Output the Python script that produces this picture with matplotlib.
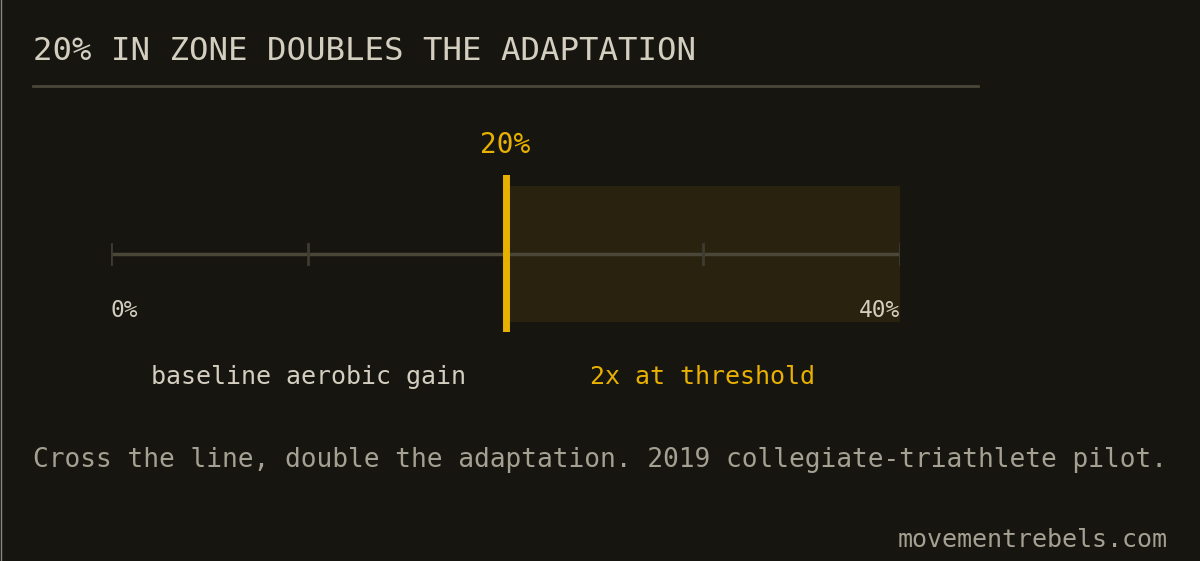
import matplotlib.pyplot as plt
import matplotlib.transforms as mtransforms
from matplotlib.lines import Line2D

# chart values
scale_ticks = [0, 10, 20, 30, 40]
end_labels = ['0%', '40%']
threshold = 20
scale_max = 40
threshold_label = '20%'
zone_labels = ['baseline aerobic gain', '2x at threshold']
title = '20% IN ZONE DOUBLES THE ADAPTATION'
subtitle = 'Cross the line, double the adaptation. 2019 collegiate-triathlete pilot.'
footer = 'movementrebels.com'

# colours
bg = '#16150f'
title_col = '#d3cebf'
muted = '#a4a092'
gold = '#e8b000'
band_col = '#29220f'
rule_col = '#4a4638'
tick_col = '#3e3b31'

plt.rcParams['font.family'] = ['DejaVu Sans Mono']

W, H = 1200, 561
fig = plt.figure(figsize=(W / 100, H / 100), dpi=100, facecolor=bg)

# thin border on the left edge
fig.add_artist(Line2D([0.5 / W, 0.5 / W], [0, 1], transform=fig.transFigure, color='#8a8680', lw=1))

# title and rule under it
fig.text(33 / W, 1 - 52 / H, title, color=title_col, fontsize=23.3, ha='left', va='center')
fig.add_artist(Line2D([33 / W, 978 / W], [1 - 86 / H, 1 - 86 / H], transform=fig.transFigure,
                      color=rule_col, lw=2))

# scale axes: x in percent, y spans the threshold marker height
ax = fig.add_axes([111 / W, 1 - 332 / H, 789 / W, 157 / H])
ax.set_xlim(0, scale_max)
ax.set_ylim(0, 1)
ax.axis('off')
ax.set_facecolor('none')

band_lo, band_hi = 10 / 157, 146 / 157
line_y = 78 / 157
tick_h = 10 / 157

# shaded zone above threshold
ax.axvspan(threshold, scale_max, ymin=band_lo, ymax=band_hi, color=band_col, lw=0, zorder=1)

# base scale line with ticks
ax.plot([0, scale_max], [line_y, line_y], color=rule_col, lw=2.5, zorder=2, solid_capstyle='butt')
for t in scale_ticks:
    ax.plot([t, t], [line_y - tick_h, line_y + tick_h], color=tick_col, lw=2, zorder=2)

# threshold marker
ax.axvline(threshold, ymin=0, ymax=1, color=gold, lw=5, zorder=3)

# end labels
ax.text(0, 0.14, end_labels[0], color=title_col, fontsize=16.5, ha='left', va='center')
ax.text(scale_max, 0.14, end_labels[1], color=title_col, fontsize=16.5, ha='right', va='center')

# labels outside the axes, x in data, y in figure
trans = mtransforms.blended_transform_factory(ax.transData, fig.transFigure)
ax.text(threshold, 1 - 145 / H, threshold_label, transform=trans, color=gold, fontsize=20,
        ha='center', va='center', clip_on=False)
ax.text(threshold / 2, 1 - 377 / H, zone_labels[0], transform=trans, color=title_col, fontsize=18,
        ha='center', va='center', clip_on=False)
ax.text((threshold + scale_max) / 2, 1 - 377 / H, zone_labels[1], transform=trans, color=gold,
        fontsize=18, ha='center', va='center', clip_on=False)

# subtitle and footer
fig.text(33 / W, 1 - 460 / H, subtitle, color=muted, fontsize=18.9, ha='left', va='center')
fig.text(1168 / W, 1 - 540 / H, footer, color=muted, fontsize=18, ha='right', va='center')

fig.savefig('out.png', dpi=100, facecolor=bg)
